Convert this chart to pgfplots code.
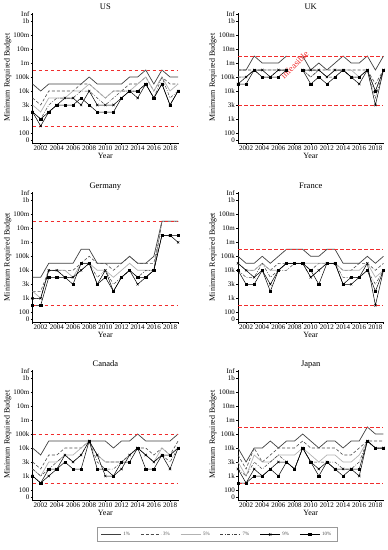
\documentclass[border=0pt]{standalone}
\usepackage{fontspec}
\setmainfont{Liberation Serif}
\usepackage{pgfplots}
\usepackage{pgfplotstable}
\pgfplotsset{compat=1.18}
\definecolor{refred}{RGB}{240,45,45}

\pgfplotstableread{
year p1 p3 p5 p7 p9 p10
2001 3.5 2.5 2 1.5 1.5 1.5
2002 3 2 1.5 1 0.5 1
2003 3.5 3 2.5 2 1.5 1.5
2004 3.5 3 2.5 2.5 2 2
2005 3.5 3 2.5 2.5 2.5 2
2006 3.5 3 3 2.5 2.5 2
2007 3.5 3.5 3 3 2 2.5
2008 4 3.5 3.5 3 3 2
2009 3.5 3 3 2.5 2 1.5
2010 3.5 2.5 2.5 2 2 1.5
2011 3.5 3 3 2.5 2 1.5
2012 3.5 3 3 3 2.5 2.5
2013 4 3.5 3 3 3 3
2014 4 3.5 3.5 3 2.5 3
2015 4.5 4 4 3.5 3.5 3.5
2016 3.5 3 3 2.5 2.5 2.5
2017 4.5 4 4 4 3.5 3.5
2018 4 3.5 3 2.5 2 2
2019 4 3.5 3.5 3 3 3
}\US

\pgfplotstableread{
year p1 p3 p5 p7 p9 p10
2001 4.5 4.5 4 4 3.5 3.5
2002 4.5 4.5 4 4 4 3.5
2003 5.5 4.5 4.5 4.5 4.5 4.5
2004 5 4.5 4.5 4 4.5 4
2005 5 4.5 4.5 4 4 4
2006 5 4.5 4.5 4.5 4.5 4
2007 5.5 4.5 4.5 4.5 4.5 4.5
2008 nan nan nan nan nan nan
2009 5.5 4.5 4.5 4.5 4.5 4.5
2010 4.5 4.5 4 4 4.5 3.5
2011 5 4.5 4.5 4.5 4.5 4
2012 4.5 4.5 4 4 4 3.5
2013 5 4.5 4.5 4 4.5 4
2014 5.5 4.5 4.5 4.5 4.5 4.5
2015 5 4.5 4.5 4 4 4
2016 5 4.5 4 4 3.5 4
2017 5.5 4.5 4.5 4.5 4.5 4.5
2018 4.5 3.5 3 2.5 2 3
2019 5.5 4.5 4.5 4.5 4.5 4.5
}\UK

\pgfplotstableread{
year p1 p3 p5 p7 p9 p10
2001 2.5 1.5 1.5 1 1 0.5
2002 2.5 1.5 1 1 1 0.5
2003 3.5 3 3 3 3 2.5
2004 3.5 3 3 3 3 2.5
2005 3.5 3 3 2.5 2.5 2.5
2006 3.5 3 2.5 2.5 2.5 2
2007 4.5 3.5 3.5 3 3 3.5
2008 4.5 4 3.5 3.5 3.5 3.5
2009 3.5 3.5 3 2.5 2 2
2010 3.5 3.5 3 3 3 2.5
2011 3.5 3 2.5 2 1.5 1.5
2012 3.5 3.5 3 2.5 2.5 2.5
2013 4 4 3.5 3 3 3
2014 3.5 3.5 3 2.5 2 2.5
2015 3.5 3.5 3 3 2.5 2.5
2016 4 3.5 3 3 3 3
2017 6.5 6.5 6.5 6.5 5.5 5.5
2018 6.5 6.5 6.5 6.5 5.5 5.5
2019 6.5 6.5 6.5 6.5 5 5.5
}\DE

\pgfplotstableread{
year p1 p3 p5 p7 p9 p10
2001 4 3.5 3.5 3 3.5 3
2002 3.5 3 3 2.5 3 2
2003 3.5 3 3 2.5 2.5 2
2004 4 3.5 3.5 3.5 3 3
2005 3.5 3 3 2.5 2 1.5
2006 4 3.5 3 3 3 3
2007 4.5 3.5 3.5 3 3.5 3.5
2008 4.5 3.5 3.5 3.5 3.5 3.5
2009 4.5 3.5 3.5 3.5 3.5 3.5
2010 4 3 3.5 2.5 2.5 3
2011 4 3.5 3.5 3 3 2
2012 4.5 3.5 3.5 3.5 3.5 3.5
2013 4.5 3.5 3.5 3.5 3.5 3.5
2014 3.5 3 3 2.5 2 2
2015 3.5 3 3 2.5 2 2.5
2016 3.5 3.5 3 2.5 2.5 2.5
2017 4 3.5 3.5 3 3.5 3
2018 3.5 3 2.5 2 0.5 1.5
2019 4 3.5 3 3 3 3
}\FR

\pgfplotstableread{
year p1 p3 p5 p7 p9 p10
2001 3 2 1.5 1.5 1 1
2002 2.5 1.5 1 1 0.5 0.5
2003 3.5 2.5 2 1.5 1 1.5
2004 3.5 2.5 2 2 1.5 1.5
2005 3.5 3 2.5 2.5 2.5 2
2006 3.5 3 2.5 2 2 1.5
2007 3.5 3 3 2.5 2.5 1.5
2008 3.5 3.5 3.5 3.5 3.5 3.5
2009 3.5 2.5 2.5 2 2.5 1.5
2010 3.5 2 2 1.5 1 1.5
2011 3 2 2 1.5 1 1
2012 3.5 2 2 2 1.5 2
2013 3.5 2.5 2.5 2.5 2.5 2
2014 4 3 3 3 3 3
2015 3.5 3 2.5 2.5 2.5 1.5
2016 3.5 2.5 2 2 2 1.5
2017 3.5 3 3 2.5 2.5 2.5
2018 3.5 2.5 2.5 2 1.5 2.5
2019 4 3.5 3 3 3 3
}\CA

\pgfplotstableread{
year p1 p3 p5 p7 p9 p10
2001 3 2.5 2 1.5 1.5 0.5
2002 2 1.5 1 1 0.5 0.5
2003 3 3 2.5 2 1.5 1
2004 3 2 2 1.5 1 1
2005 3.5 2.5 2 2 1.5 1.5
2006 3 3 2.5 2.5 2 1
2007 3.5 3 2.5 2 2 2
2008 3.5 3 2.5 1.5 1.5 1.5
2009 4 3.5 3 3 3 3
2010 3.5 3 2.5 2 2 2
2011 3 3 2 2 1.5 1
2012 3.5 3 2.5 2 2 2
2013 3.5 3 2.5 2 1.5 1.5
2014 3 2.5 2 1.5 1.5 1
2015 3.5 2.5 2 1.5 1.5 1.5
2016 3.5 3 2.5 2 1 1.5
2017 4.5 3.5 3.5 3.5 3.5 3.5
2018 4 3.5 3 3 3 3
2019 4 3.5 3 3 3 3
}\JP

\pgfplotsset{
  s1/.style={black!75, line width=0.7pt, mark=none},
  s3/.style={black!70, line width=0.6pt, dash pattern=on 3pt off 2pt, mark=none},
  s5/.style={black!30, line width=0.7pt, mark=none},
  s7/.style={black!75, line width=0.5pt, dash pattern=on 3pt off 1.5pt on 0.8pt off 1.5pt, mark=none},
  s9/.style={black, line width=0.5pt, mark=x, mark size=1.6pt, mark options={solid}},
  s10/.style={black, line width=0.5pt, mark=square*, mark size=1.1pt, mark options={solid}},
  redline/.style={color=refred, draw=refred, line width=0.9pt, dash pattern=on 3.5pt off 2.5pt, mark=none},
  every axis title shift=0pt,
  budget/.style={
    scale only axis, width=145.5pt, height=130.2pt,
    xmin=2001, xmax=2019, ymin=-0.7, ymax=8.6,
    axis x line*=bottom, axis y line*=left,
    axis line style={-, line width=0.5pt},
    xtick={2002,2004,...,2018}, minor xtick={2001,2003,...,2019},
    ytick={-0.5,0,1,2,3,4,5,6,7,8,8.5},
    yticklabels={0,100,1k,3k,10k,100k,1m,10m,100m,1b,Inf},
    tick align=outside, major tick length=2pt, minor tick length=1.5pt,
    tick style={black, line width=0.4pt},
    /pgf/number format/1000 sep={},
    /pgf/number format/assume math mode=true,
    ticklabel style={font=\fontsize{7}{8}\selectfont, inner sep=1pt},
    xlabel={Year}, ylabel={Minimum Required Budget},
    label style={font=\fontsize{8}{9}\selectfont},
    title style={font=\fontsize{8.5}{10}\selectfont, at={(0.5,1)}, anchor=base, yshift=3.5pt, inner sep=0pt},
    xlabel style={inner sep=1pt},
    ylabel style={inner sep=1pt},
    unbounded coords=jump,
    clip=false,
  },
}

\newcommand\series[1]{%
  \addplot[s1] table[x=year,y=p1]{#1};
  \addplot[s3] table[x=year,y=p3]{#1};
  \addplot[s5] table[x=year,y=p5]{#1};
  \addplot[s7] table[x=year,y=p7]{#1};
  \addplot[s9] table[x=year,y=p9]{#1};
  \addplot[s10] table[x=year,y=p10]{#1};
}
\newcommand\redlines[2]{%
  \addplot[redline] coordinates {(2001,#1) (2019,#1)};
  \addplot[redline] coordinates {(2001,#2) (2019,#2)};
}

\begin{document}
\begin{tikzpicture}
\path[use as bounding box] (0,0) rectangle (388pt,-550pt);

\begin{axis}[budget, at={(32.6pt,-12.6pt)}, anchor=north west, title={US}]
\series{\US}
\redlines{4.5}{0.5}
\end{axis}

\begin{axis}[budget, at={(238pt,-12.6pt)}, anchor=north west, title={UK}]
\series{\UK}
\redlines{5.5}{2}
\node[refred, rotate=45, font=\fontsize{9}{10}\selectfont] at (axis cs:2008,4.85) {infeasible};
\end{axis}

\begin{axis}[budget, at={(32.6pt,-191.9pt)}, anchor=north west, title={Germany}]
\series{\DE}
\redlines{6.5}{0.5}
\end{axis}

\begin{axis}[budget, at={(238pt,-191.9pt)}, anchor=north west, title={France}]
\series{\FR}
\redlines{4.5}{0.5}
\end{axis}

\begin{axis}[budget, at={(32.6pt,-369.6pt)}, anchor=north west, title={Canada}]
\series{\CA}
\redlines{4}{0.5}
\end{axis}

\begin{axis}[budget, at={(238pt,-369.6pt)}, anchor=north west, title={Japan}]
\series{\JP}
\redlines{4.5}{0.5}
\end{axis}

\begin{axis}[hide axis, scale only axis, width=10pt, height=10pt,
  xmin=0, xmax=1, ymin=0, ymax=1,
  at={(217pt,-534.5pt)}, anchor=center,
  legend columns=6,
  legend image code/.code={\draw[mark repeat=2,mark phase=2,#1] plot coordinates {(0pt,0pt) (10pt,0pt) (20pt,0pt)};},
  legend style={at={(0.5,0.5)}, anchor=center, draw=black!40, line width=0.3pt,
    font=\fontsize{5}{6}\selectfont, text=black!70,
    inner ysep=2.5pt, inner xsep=4pt,
    /tikz/every even column/.append style={column sep=8.5pt}},
]
\addlegendimage{s1}\addlegendentry{1\%}
\addlegendimage{s3}\addlegendentry{3\%}
\addlegendimage{s5}\addlegendentry{5\%}
\addlegendimage{s7}\addlegendentry{7\%}
\addlegendimage{s9}\addlegendentry{9\%}
\addlegendimage{s10}\addlegendentry{10\%}
\end{axis}
\end{tikzpicture}
\end{document}
